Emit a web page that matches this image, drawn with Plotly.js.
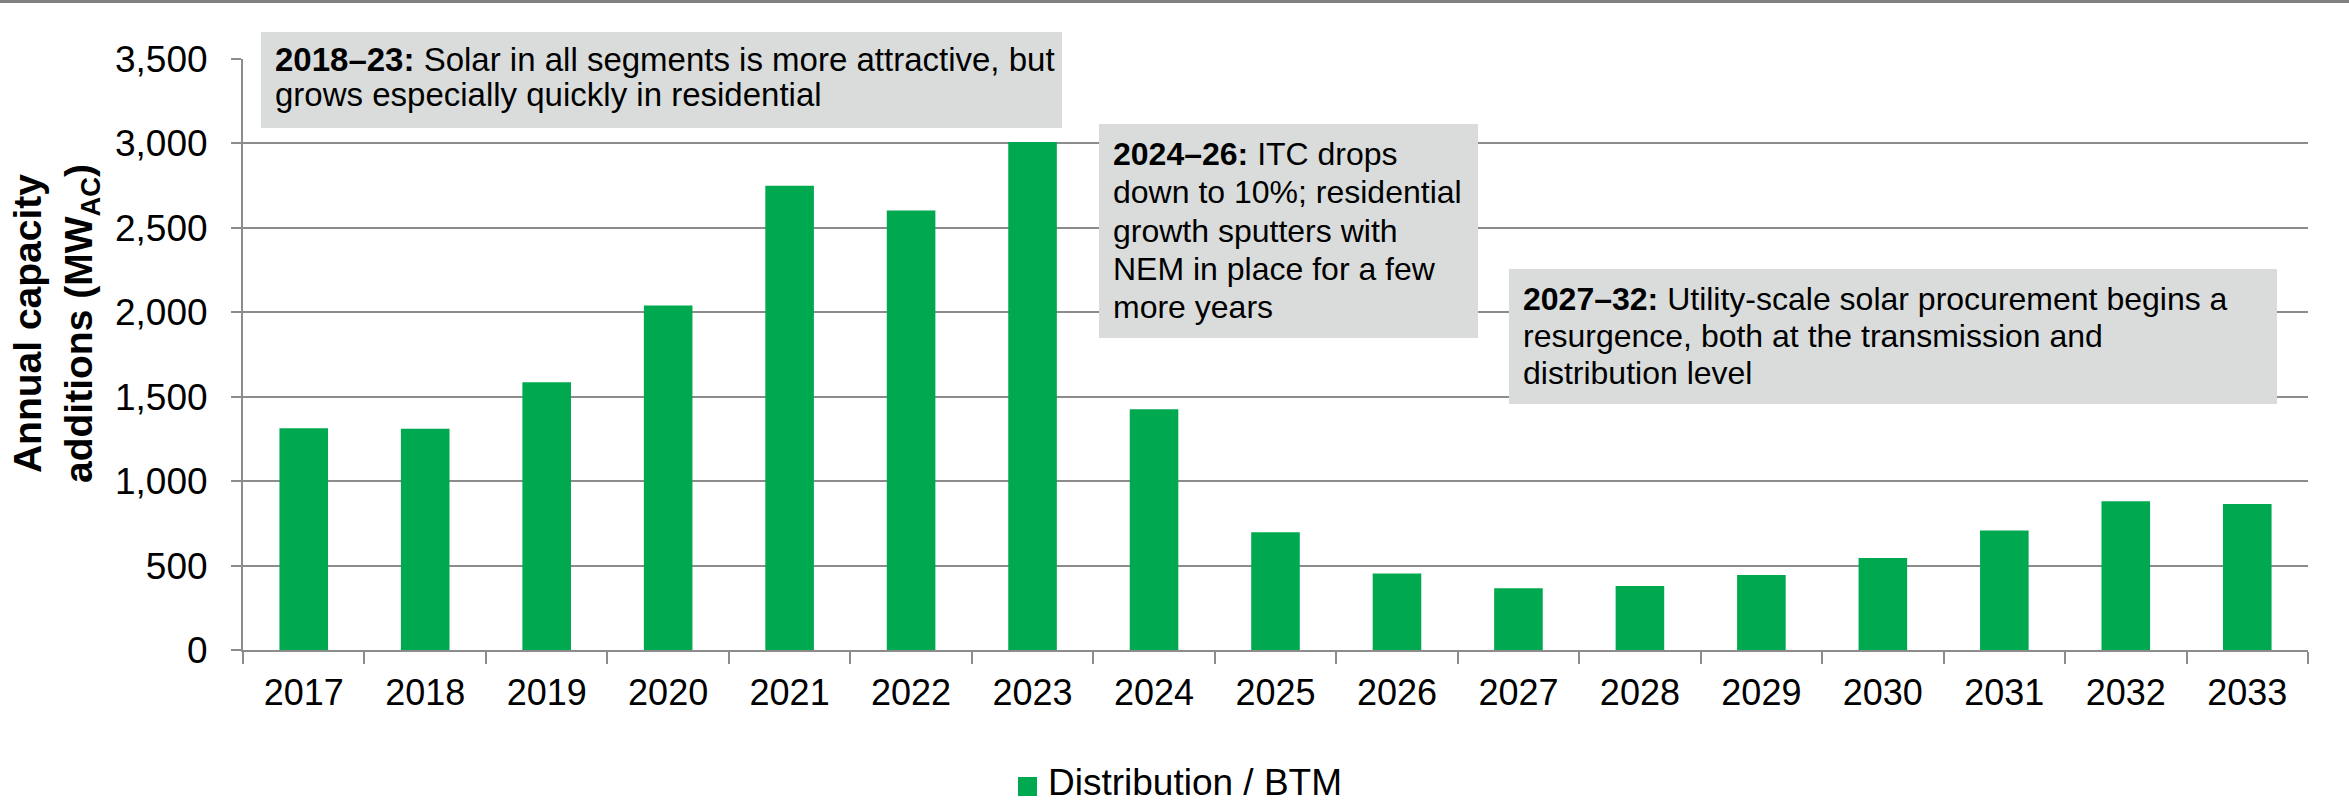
<!DOCTYPE html>
<html>
<head>
<meta charset="utf-8">
<script src="https://cdn.plot.ly/plotly-3.0.1.min.js"></script>
<style>html,body{margin:0;padding:0;background:#fff;}#chart{width:2349px;height:804px;}</style>
</head>
<body>
<div id="chart"></div>
<script>
// ---- data ----
const years = ['2017','2018','2019','2020','2021','2022','2023','2024','2025','2026','2027','2028','2029','2030','2031','2032','2033'];
const additions = [1313, 1311, 1586, 2040, 2749, 2603, 3008, 1426, 698, 453, 365, 379, 444, 545, 707, 881, 865];
const seriesName = 'Distribution / BTM';
const yTitleLines = ['<b>Annual capacity</b>', '<b>additions (MW<sub>AC</sub>)</b>'];
const note1Lines = ['<b>2018–23:</b> Solar in all segments is more attractive, but', 'grows especially quickly in residential'];
const note2Lines = ['<b>2024–26:</b> ITC drops', 'down to 10%; residential', 'growth sputters with', 'NEM in place for a few', 'more years'];
const note3Lines = ['<b>2027–32:</b> Utility-scale solar procurement begins a', 'resurgence, both at the transmission and', 'distribution level'];

// ---- geometry ----
const W = 2349, H = 804;
const L = 243, R = 2308, T = 59, B = 650;
const PW = R - L, PH = B - T;
const px = x => (x - L) / PW;
const py = y => (B - y) / PH;

const FONT = 'Liberation Sans, Arial, Helvetica, sans-serif';
const GREEN = '#00a94f';
const GRID = '#8c8c8c';
const BOXFILL = '#d9dcdb';

const shapes = [];
const annotations = [];

// top border band
shapes.push({type:'rect', xref:'paper', yref:'paper', x0:px(0), x1:px(W), y0:py(0), y1:py(3), fillcolor:'#808080', line:{width:0}, layer:'above'});

function addNote(lines, box, textX, baselines, fs) {
  shapes.push({type:'rect', xref:'paper', yref:'paper', x0:px(box[0]), x1:px(box[1]), y0:py(box[3]), y1:py(box[2]), fillcolor:BOXFILL, line:{width:0}, layer:'above'});
  lines.forEach((t, i) => {
    annotations.push({xref:'paper', yref:'paper', x:px(textX), y:py(baselines[i] - 0.3465*fs), xanchor:'left', yanchor:'middle', text:t, showarrow:false, align:'left', borderpad:0, borderwidth:0, font:{family:FONT, size:fs, color:'#000'}});
  });
}
addNote(note1Lines, [261, 1062, 32, 128], 275, [71, 106], 33);
addNote(note2Lines, [1099, 1478, 124, 338], 1113, [165, 203, 242, 280, 318], 32);
addNote(note3Lines, [1509, 2277, 269, 404], 1523, [310, 347, 384], 32);

// y title
annotations.push({xref:'paper', yref:'paper', x:px(56), y:py(324), xanchor:'center', yanchor:'middle', textangle:-90, text:yTitleLines.join('<br>'), showarrow:false, borderpad:0, font:{family:FONT, size:39, color:'#000'}});

// custom legend
shapes.push({type:'rect', xref:'paper', yref:'paper', x0:px(1018), x1:px(1037), y0:py(796), y1:py(777), fillcolor:GREEN, line:{width:0}});
annotations.push({xref:'paper', yref:'paper', x:px(1047), y:py(795 - 0.3465*37), xanchor:'left', yanchor:'middle', text:seriesName, showarrow:false, borderpad:0, font:{family:FONT, size:37, color:'#000'}});

const trace = {type:'bar', x:years, y:additions, name:seriesName, marker:{color:GREEN}, showlegend:false, hoverinfo:'skip'};

const layout = {
  width:W, height:H,
  margin:{l:L, r:W-R, t:T, b:H-B, pad:0},
  paper_bgcolor:'#fff', plot_bgcolor:'#fff',
  bargap:0.6,
  showlegend:false,
  font:{family:FONT, color:'#000'},
  xaxis:{type:'category', tickson:'boundaries', ticks:'outside', ticklen:12, tickwidth:2, tickcolor:GRID,
         showline:true, linecolor:GRID, linewidth:2, showgrid:false, zeroline:false, ticklabelstandoff:10,
         tickfont:{family:FONT, size:36, color:'#000'}, fixedrange:true},
  yaxis:{range:[0,3500], dtick:500, tick0:0, tickformat:',', ticks:'outside', ticklen:10, tickwidth:2, tickcolor:GRID,
         showline:true, linecolor:GRID, linewidth:2, showgrid:true, gridcolor:GRID, gridwidth:2, zeroline:false, ticklabelstandoff:16,
         tickfont:{family:FONT, size:37, color:'#000'}, fixedrange:true},
  shapes:shapes,
  annotations:annotations
};

Plotly.newPlot('chart', [trace], layout, {staticPlot:true, displayModeBar:false});
</script>
</body>
</html>
